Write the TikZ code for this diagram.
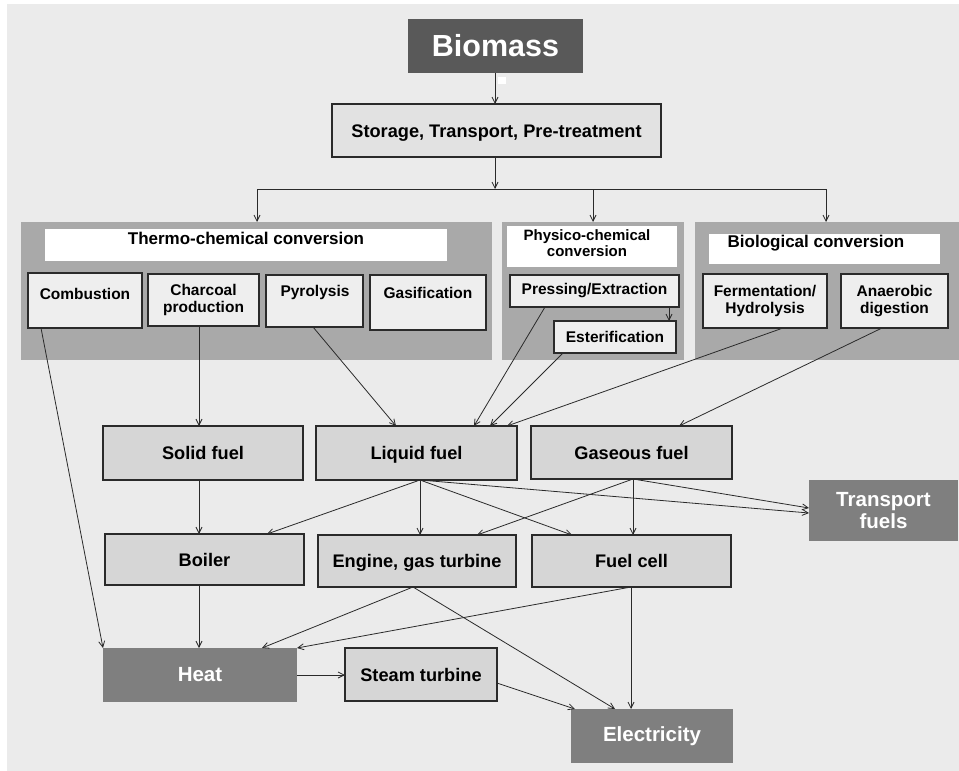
\documentclass[tikz,border=0pt]{standalone}
\usepackage{fontspec}
\setmainfont{Liberation Sans}
\usetikzlibrary{arrows.meta,calc}
\definecolor{bgc}{HTML}{EBEBEB}
\definecolor{grp}{HTML}{A9A9A9}
\definecolor{lbc}{HTML}{D6D6D6}
\definecolor{sbc}{HTML}{EEEEEE}
\definecolor{dkb}{HTML}{7F7F7F}
\definecolor{bmc}{HTML}{595959}
\definecolor{lnc}{HTML}{2A2A2A}
\begin{document}
\begin{tikzpicture}[x=1pt,y=-1pt,
 base/.style={anchor=north west, inner sep=0pt, outer sep=0pt, align=center},
 sz/.style 2 args={minimum width=#1pt, minimum height=#2pt},
 lbox/.style={base, fill=lbc, draw=lnc, line width=1.2pt, text height=13pt, text depth=0pt, font=\bfseries\fontsize{18.2}{20}\selectfont},
 sbox/.style={base, fill=sbc, draw=lnc, line width=1.2pt, font=\bfseries\fontsize{15.5}{17.5}\selectfont},
 dbox/.style={base, fill=dkb, text=white, font=\bfseries\fontsize{20.5}{22}\selectfont},
 grpbox/.style={base, fill=grp},
 tbox/.style={base, fill=white},
 lbl/.style={inner sep=0pt, align=center, font=\bfseries\fontsize{15.5}{17.5}\selectfont},
 tlbl/.style={inner sep=0pt, align=center, font=\bfseries\fontsize{17}{19}\selectfont},
 arr/.style={draw=lnc, line width=0.8pt, -{Straight Barb[length=6pt,width=6pt]}},
 ln/.style={draw=lnc, line width=0.8pt},
 ]
\useasboundingbox (0,0) rectangle (959,771);
\fill[white] (0,0) rectangle (959,771);
\fill[bgc] (7,4) rectangle (959,771);

% top
\node[base, fill=bmc, text=white, sz={175}{54}, font=\bfseries\fontsize{30.5}{32}\selectfont] (biomass) at (408,19) {Biomass};
\node[base, fill=white, sz={8}{7}] (spot) at (498,77) {};
\node[lbox, fill=lbc!70!white, sz={329}{53}] (storage) at (332,104) {Storage, Transport, Pre-treatment};
\coordinate (jc) at (495,189);
\coordinate (jl) at (257,189);
\coordinate (jm) at (593,189);
\coordinate (jr) at (826,189);

% groups
\node[grpbox, sz={471}{138}] (thermo) at (21,222) {};
\node[grpbox, sz={182}{138}] (physico) at (502,222) {};
\node[grpbox, sz={264}{138}] (bio) at (695,222) {};

\node[tbox, sz={402}{32}] (thermo-t) at (45,229) {};
\node[tlbl] (thermo-l) at (246,238) {Thermo-chemical conversion};
\node[tbox, sz={170}{41}] (physico-t) at (507,226) {};
\node[lbl, font=\bfseries\fontsize{15}{16.5}\selectfont] (physico-l) at (587,243) {Physico-chemical\\conversion};
\node[tbox, sz={231}{30}] (bio-t) at (709,234) {};
\node[tlbl] (bio-l) at (816,243) {Biological conversion};

% process boxes
\node[sbox, sz={114}{55}] (comb) at (28,273) {};
\node[lbl] (comb-l) at (85,294) {Combustion};
\node[sbox, sz={111}{52}] (char) at (148,274) {Charcoal\\production};
\node[sbox, sz={97}{52}] (pyro) at (266,275) {};
\node[lbl] (pyro-l) at (315,292) {Pyrolysis};
\node[sbox, sz={116}{55}] (gasi) at (370,275) {};
\node[lbl] (gasi-l) at (428,293) {Gasification};
\node[sbox, sz={169}{32}] (press) at (510,275) {Pressing/Extraction};
\node[sbox, sz={122}{32}] (ester) at (554,321) {Esterification};
\node[sbox, sz={124}{54}] (ferm) at (703,274) {Fermentation/\\Hydrolysis};
\node[sbox, sz={107}{54}] (anae) at (841,274) {Anaerobic\\digestion};

% fuels
\node[lbox, sz={200}{54}] (solid) at (103,426) {Solid fuel};
\node[lbox, sz={201}{54}] (liquid) at (316,426) {Liquid fuel};
\node[lbox, sz={201}{53}] (gas) at (531,426) {Gaseous fuel};
\node[dbox, sz={149}{61}] (transport) at (809,480) {Transport\\fuels};

% conversion
\node[lbox, sz={199}{51}] (boiler) at (105,534) {Boiler};
\node[lbox, sz={198}{52}] (engine) at (318,535) {Engine, gas turbine};
\node[lbox, sz={199}{52}] (fcell) at (532,535) {Fuel cell};

% outputs
\node[dbox, sz={194}{54}] (heat) at (103,648) {Heat};
\node[lbox, sz={152}{53}] (steam) at (345,648) {Steam turbine};
\node[dbox, sz={162}{54}] (elec) at (571,709) {Electricity};

% top connectors
\draw[arr] ([xshift=87pt]biomass.south west) -- ([xshift=163pt]storage.north west);
\draw[arr] ([xshift=163pt]storage.south west) -- (jc);
\draw[ln] (jl) -- (jr);
\draw[arr] (jl) -- (jl |- thermo.north);
\draw[arr] (jm) -- (jm |- physico.north);
\draw[arr] (jr) -- (jr |- bio.north);
\draw[arr] ([xshift=159pt]press.south west) -- ([xshift=115pt]ester.north west);

% to fuels
\draw[arr] ([xshift=13pt]comb.south west) -- (heat.north west);
\draw[arr] ([xshift=51pt]char.south west) -- ([xshift=96pt]solid.north west);
\draw[arr] ([xshift=47pt]pyro.south west) -- ([xshift=80pt]liquid.north west);
\draw[arr] ([xshift=35pt]press.south west) -- ([xshift=158pt]liquid.north west);
\draw[arr] ([xshift=9pt]ester.south west) -- ([xshift=174pt]liquid.north west);
\draw[arr] ([xshift=80pt]ferm.south west) -- ([xshift=191pt]liquid.north west);
\draw[arr] ([xshift=41pt]anae.south west) -- ([xshift=148pt]gas.north west);

% from fuels
\draw[arr] ([xshift=96pt]solid.south west) -- ([xshift=94pt]boiler.north west);
\draw[arr] ([xshift=104pt]liquid.south west) -- ([xshift=162pt]boiler.north west);
\draw[arr] ([xshift=104pt]liquid.south west) -- ([xshift=102pt]engine.north west);
\draw[arr] ([xshift=104pt]liquid.south west) -- ([xshift=40pt]fcell.north west);
\draw[arr] ([xshift=104pt]liquid.south west) -- ([yshift=-33pt]transport.north west);
\draw[arr] ([xshift=102pt]gas.south west) -- ([xshift=159pt]engine.north west);
\draw[arr] ([xshift=102pt]gas.south west) -- ([xshift=101pt]fcell.north west);
\draw[arr] ([xshift=102pt]gas.south west) -- ([yshift=-28pt]transport.north west);

% to outputs
\draw[arr] ([xshift=94pt]boiler.south west) -- ([xshift=96pt]heat.north west);
\draw[arr] ([xshift=95pt]engine.south west) -- ([xshift=159pt]heat.north west);
\draw[arr] ([xshift=95pt]engine.south west) -- ([xshift=44pt]elec.north west);
\draw[arr] ([xshift=99pt]fcell.south west) -- (heat.north east);
\draw[arr] ([xshift=99pt]fcell.south west) -- ([xshift=60pt]elec.north west);
\draw[arr] (heat.east) -- (heat.east -| steam.west);
\draw[arr] ([yshift=-35pt]steam.north east) -- ([xshift=4pt]elec.north west);
\end{tikzpicture}
\end{document}
